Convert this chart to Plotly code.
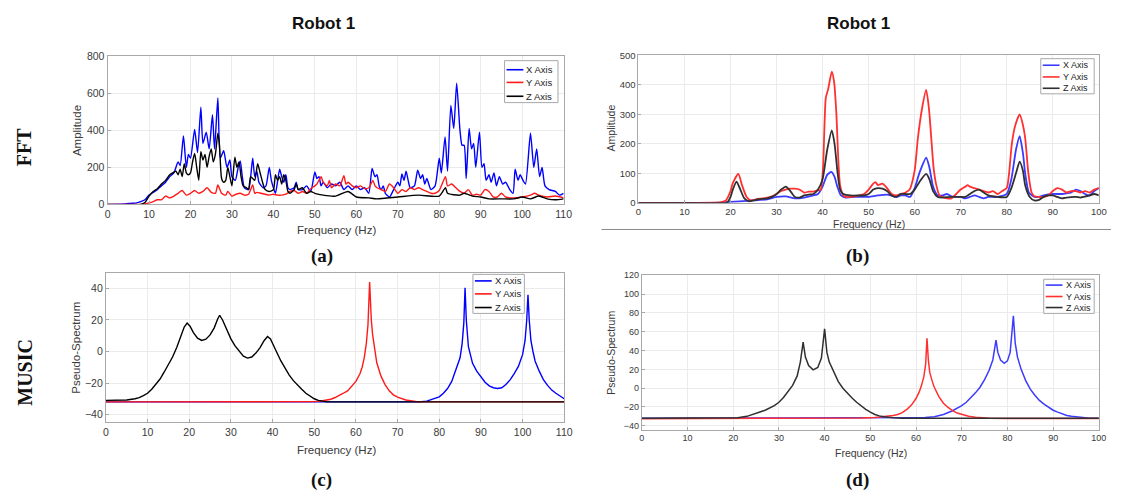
import plotly.graph_objects as go

# ---------------- DATA ----------------
# (a) FFT Robot 1 : (frequency Hz, amplitude)
fft_a_x = [(0,0),(2,1),(4,3),(5,5),(6,6),(7,8),(8,15),(9,25),(10,50),(11,65),(12,80),(13,100),(14,120),(15,150),(16,170),(17,230),(17.5,210),(18.3,370),(19,200),(19.5,270),(20,250),(21,405),(21.7,280),(22.5,525),(23,330),(23.8,390),(24.5,300),(25.3,485),(25.8,300),(26.6,575),(27.2,250),(28,290),(28.8,200),(29.5,240),(30,150),(30.8,130),(31.5,200),(32,235),(32.5,150),(33,90),(34,80),(35,250),(35.5,150),(36,180),(36.5,120),(37.5,90),(38.2,100),(39,200),(39.5,130),(40,90),(40.5,60),(41.5,190),(42,150),(42.5,120),(43,160),(43.5,90),(44,80),(45,90),(45.5,120),(46,80),(47,80),(48,100),(49,70),(50,175),(50.5,140),(51,150),(51.5,100),(52,120),(53,90),(54,110),(55,100),(56,120),(57,80),(58,100),(59,80),(60,100),(61,80),(62,90),(63,60),(63.8,195),(64.5,150),(65,160),(65.5,100),(66,80),(66.5,100),(67,60),(68,40),(69,80),(70,120),(70.5,100),(71,165),(71.5,130),(72,180),(72.5,130),(73,90),(74,100),(74.8,185),(75.5,140),(76,160),(76.5,110),(77,140),(78,80),(79,100),(80,250),(80.5,170),(81.4,365),(82,180),(82.8,535),(83.5,410),(84.2,655),(85,400),(85.5,320),(86,320),(86.5,140),(87.2,410),(87.8,300),(88.3,330),(88.8,200),(89.7,390),(90.3,200),(90.8,220),(91.3,130),(92,160),(92.5,120),(93.2,170),(93.8,100),(94.5,150),(95.3,110),(96,120),(97,80),(97.8,60),(98.3,190),(99,130),(99.5,160),(100.2,130),(100.8,110),(102,385),(102.8,200),(103.5,300),(104.2,150),(104.8,200),(105.5,100),(106.5,80),(108,70),(109,50),(110,60)]
fft_a_y = [(0,0),(8,0),(9,3),(10,8),(11,15),(12,25),(13,25),(14,45),(15,35),(16,45),(17,60),(18,75),(19,50),(20,60),(21,75),(22,60),(23,70),(24,90),(25,65),(26,60),(26.6,105),(27.5,60),(28.5,50),(29,70),(30,45),(31,55),(32,60),(33,50),(34,55),(35,105),(35.5,60),(36,65),(37,60),(38,55),(39,50),(40,55),(41,50),(42,50),(43,55),(44,70),(45,75),(46,60),(47,70),(48,60),(49,85),(50,100),(50.5,110),(51.5,150),(52,120),(53,100),(53.5,130),(54,90),(55,110),(56,100),(57,155),(57.5,110),(58,120),(59,100),(60,90),(61,100),(62,85),(63,90),(64,130),(64.5,100),(65,90),(66,80),(67,70),(68,110),(69,90),(70,60),(71,80),(72,70),(73,90),(74,80),(75,90),(76,80),(77,70),(78,60),(79,60),(80,75),(81.5,150),(82,100),(83,110),(84,90),(85,70),(86,60),(87,80),(88,50),(89,55),(90,50),(91,80),(92,70),(93,40),(94,40),(95,60),(96,40),(98,35),(100,40),(102,50),(103,60),(104,50),(106,40),(108,45),(110,35)]
fft_a_z = [(0,0),(8,0),(9,10),(10,45),(11,70),(12,85),(13,110),(14,130),(15,160),(16,175),(16.5,180),(17,160),(17.5,190),(18,150),(18.5,220),(19,170),(19.5,160),(20,170),(20.5,230),(21,275),(21.5,200),(22,130),(22.5,285),(23,240),(23.5,270),(24,200),(24.5,260),(25,300),(25.5,230),(26,270),(26.6,385),(27,320),(27.5,140),(28,120),(28.5,130),(29,200),(29.5,150),(30,100),(30.7,255),(31.2,200),(31.7,230),(32.2,150),(32.7,100),(33.5,90),(34,80),(34.5,150),(35,140),(35.5,130),(36.2,220),(36.8,170),(37.5,110),(38,80),(39,70),(40,80),(40.5,160),(41,130),(41.5,150),(42,110),(42.5,160),(43,130),(43.5,70),(44,60),(45,80),(45.5,110),(46,80),(47,90),(48,60),(49,70),(50,60),(52,50),(55,45),(58,70),(60,40),(63,35),(65,30),(70,40),(75,50),(80,45),(81.5,90),(82,60),(85,50),(86,60),(88,45),(90,40),(92,30),(95,30),(98,30),(100,40),(102,30),(104,45),(106,30),(108,25),(110,30)]

# (b) FFT Robot 1 (second)
fft_b_x = [(0,0),(10,0),(18,1),(20,3),(22,5),(25,8),(28,12),(30,20),(32,22),(34,15),(36,18),(38,25),(39,30),(40,55),(41,95),(41.9,105),(42.6,88),(43.2,55),(44,25),(45,18),(47,20),(49,20),(50,20),(52,25),(54,28),(56,20),(57,25),(58,25),(59,20),(60,50),(61,100),(62.5,153),(63.2,120),(64,55),(65,25),(66,25),(67,30),(68,22),(69,20),(70,20),(71,15),(72,20),(73,25),(74,20),(75,15),(76,20),(78,20),(80,30),(81,80),(82,180),(82.8,226),(83.5,170),(84,100),(84.8,35),(86,20),(87,20),(88,25),(90,30),(92,30),(94,35),(95,45),(96,40),(97,30),(98,25),(99,40),(100,50)]
fft_b_y = [(0,0),(10,0),(17,0.5),(18,2),(19,8),(20,40),(20.5,67),(21.7,98),(22.5,60),(23.5,20),(24.5,8),(25.5,12),(27,15),(28,18),(29,22),(30,30),(31,40),(32,45),(33,48),(34,48),(35,45),(36,35),(37,38),(38,38),(39,42),(39.6,45),(40.1,120),(40.7,357),(41.2,385),(42,445),(42.5,410),(43,300),(43.4,150),(43.8,60),(44.5,25),(45,20),(46,20),(47,22),(48,25),(49,30),(50,45),(51,65),(51.5,70),(52,60),(53,65),(54,50),(55,30),(56,25),(57,30),(58,35),(58.9,45),(60,110),(60.7,220),(61.6,320),(62.5,383),(63.1,320),(63.6,220),(64.1,120),(64.6,67),(65.4,25),(66,20),(67,15),(68,15),(69,30),(70,45),(71,55),(71.5,60),(72,55),(73,50),(74,45),(75,40),(76,35),(77,40),(78,30),(79,40),(80,50),(80.5,100),(81.1,200),(81.8,260),(82.8,300),(83.5,265),(84,220),(84.7,100),(85.4,35),(86,22),(87,20),(88,20),(89,25),(90,40),(91,50),(92,45),(93,35),(94,40),(95,40),(96,35),(97,40),(98,35),(99,45),(100,50)]
fft_b_z = [(0,0),(10,0),(19,0),(19.5,5),(20,20),(20.5,45),(21.3,72),(22,50),(23,15),(24,5),(25,8),(26,12),(28,15),(29,20),(30,30),(31,45),(32,55),(33,40),(34,20),(35,18),(36,25),(37,28),(38,30),(39,45),(40,80),(41,180),(42,246),(42.6,200),(43.2,110),(43.8,45),(44.5,30),(46,25),(48,25),(49,25),(50,30),(51,45),(52,50),(53,48),(54,40),(55,25),(56,20),(57,30),(58,30),(59,30),(60,45),(61,70),(62.5,98),(63.2,80),(64,40),(65,20),(66,18),(68,20),(70,20),(71,20),(72,30),(73,40),(74,45),(75,35),(76,25),(78,20),(80,20),(81,50),(82,100),(82.8,140),(83.5,110),(84,60),(85,20),(86,8),(87,10),(88,20),(89,25),(90,25),(91,20),(92,15),(93,18),(95,20),(96,18),(98,25),(99,30),(100,25)]

# (c) MUSIC Robot 1 : (frequency Hz, pseudo-spectrum)
mus_c_x = [(0,-32),(20,-32),(40,-32),(60,-32),(75,-32),(77,-31.5),(79,-30),(80,-28.8),(81,-26.5),(82,-23.5),(83,-19),(84,-12),(85,-4),(85.5,5),(85.9,18),(86.2,40.5),(86.5,20),(87,3),(87.5,-3),(88,-7.5),(89,-12.5),(90,-16),(91,-19.5),(92,-21.8),(93,-23),(94,-23.5),(95,-23),(96,-21),(97,-18),(98,-14),(99,-9.5),(100,-2),(100.6,7),(101,20),(101.3,36),(101.6,20),(102,7),(102.5,0),(103,-6),(104,-12.5),(105,-17.8),(106,-21.5),(107,-24.5),(108,-26.5),(109,-28.5),(110,-30)]
mus_c_y = [(0,-32),(10,-32),(20,-32),(30,-32),(40,-32),(48,-32),(50,-31.8),(52,-31.3),(54,-30.3),(55,-29.2),(56,-28),(57,-26.5),(58,-25),(59,-22),(60,-19),(61,-14),(61.5,-10),(62,-4),(62.5,5),(62.9,17),(63.3,44),(63.7,20),(64,11),(64.5,2),(65,-7),(66,-15.5),(67,-21),(68,-25),(69,-27.5),(70,-29),(72,-30.8),(75,-32),(80,-32),(90,-32),(100,-32),(110,-32)]
mus_c_z = [(0,-31),(3,-31),(5,-30.8),(7,-30),(8,-29.3),(9,-28),(10,-26.5),(11,-24),(12,-21),(13,-17.5),(14,-13),(15,-8.5),(16,-3.5),(17,2.5),(18,10),(18.8,15.5),(19.5,18),(20.2,16),(21,12),(22,8.5),(23,7),(24,7.8),(25,10.5),(26,15),(26.8,20.5),(27.3,23),(28,20),(29,14),(30,8),(31,3.5),(32,0),(33,-3),(34,-4.2),(35,-3.5),(36,-1),(37,2.5),(38,7),(38.8,9.5),(39.5,8),(40,5.5),(41,-0.5),(42,-6),(43,-11),(44,-15),(45,-18.5),(46,-21.5),(47,-24),(48,-26.5),(49,-28.5),(50,-30),(51,-31),(53,-32),(60,-32),(70,-32),(80,-32),(90,-32),(100,-32),(110,-32)]

# (d) MUSIC Robot 1 (second)
mus_d_x = [(0,-32),(20,-32),(40,-32),(55,-32),(60,-31.8),(62,-31.3),(64,-30.3),(66,-28),(68,-24),(69,-21.5),(70,-18.5),(71,-15),(72,-10.5),(73,-5),(74,1),(75,9),(76,19),(76.8,30),(77.5,51),(77.9,38),(78.5,30),(79.3,26.5),(80,29),(80.6,38),(81.3,77),(81.7,48),(82.2,33),(83,20),(84,8),(85,-1),(86,-7.5),(87,-13),(88,-17),(89,-20.5),(90,-23.5),(91,-25.5),(92,-27.5),(93,-29),(94,-30),(96,-31.3),(98,-32),(100,-32)]
mus_d_y = [(0,-32.5),(10,-32.5),(20,-32.3),(30,-32.2),(40,-32),(48,-31.8),(51,-31.3),(53,-30.5),(55,-29),(56,-28),(57,-26),(58,-22.5),(59,-18),(60,-11),(60.7,-4),(61.2,3),(61.7,12),(62.1,25),(62.4,53),(62.7,30),(63,17),(63.5,8),(64,1),(65,-9),(66,-16),(67,-20.5),(68,-24),(69,-26.5),(70,-28),(71.5,-29.8),(73,-31),(76,-32),(80,-32.3),(90,-32.3),(100,-32.3)]
mus_d_z = [(0,-32),(5,-32),(10,-31.7),(14,-31.3),(18,-31.6),(21,-31.5),(23,-30),(25,-27),(27,-23.5),(29,-18.5),(30,-15),(31,-10),(32,-4),(33,3),(34,13),(34.7,28),(35.3,49),(35.8,33),(36.5,24),(37.5,19.5),(38.5,22),(39.3,32),(40,63),(40.5,38),(41,28),(42,17),(43,7),(44,0),(45,-5.5),(46,-10.5),(47,-15),(48,-19),(49,-22.5),(50,-25.5),(51,-28),(52,-29.5),(53,-30.5),(55,-31.5),(57,-32),(70,-32),(80,-32),(90,-32),(100,-32)]

series_names = ["X Axis", "Y Axis", "Z Axis"]
panel_letters = ["(a)", "(b)", "(c)", "(d)"]
column_titles = ["Robot 1", "Robot 1"]
row_titles = ["FFT", "MUSIC"]
x_ranges = [[0, 110], [0, 100], [0, 110], [0, 100]]
y_ranges = [[0, 800], [0, 500], [-45, 50], [-44, 120]]
y_dticks = [200, 100, 20, 20]
y_titles = ["Amplitude", "Amplitude", "Pseudo-Spectrum", "Pseudo-Spectrum"]
x_title = "Frequency (Hz)"

# ---------------- LAYOUT HELPERS ----------------
W, H = 1121, 497
def px(x): return x / W
def py(y): return 1 - y / H

# plot areas in pixels: left, right, top, bottom
areas = [(105.7, 566.7, 51.7, 203.3), (642.3, 1107.7, 50.7, 201.7),
         (104.0, 567.3, 273.3, 426.7), (645.7, 1107.7, 276.0, 434.0)]
# legend boxes (left, top, right, bottom) and row centres
legend_boxes = [(507, 56, 561, 99), (1049, 54, 1103, 90), (475, 275, 527, 315), (1052, 280, 1103, 315)]
legend_rows = [(65.3, 78.3, 92.5), (60.7, 72.7, 84.3), (281.7, 295.0, 309.0), (286.0, 297.7, 309.0)]
legend_fs = [9.5, 9, 9.5, 9]
tick_sizes = [10.5, 9.5, 10.5, 9]
title_sizes = [11.5, 10.5, 11.5, 10.5]
ytitle_pos = [(75, 128), (615, 125), (73, 350), (615, 355)]
xtitle_pos = [(337, 230), (875, 223), (337, 455), (877, 458)]
letter_pos = [(322, 256), (864, 256), (322, 486), (864, 486)]

colors_strong = ["#0000ff", "#ff1a1a", "#000000"]
colors_soft = ["#3b3bff", "#ff3030", "#303030"]

panels = [
    (fft_a_x, fft_a_y, fft_a_z, colors_strong, 1.4, "spline"),
    (fft_b_x, fft_b_y, fft_b_z, colors_soft, 1.8, "spline"),
    (mus_c_x, mus_c_y, mus_c_z, colors_strong, 1.4, "linear"),
    (mus_d_x, mus_d_y, mus_d_z, colors_soft, 1.5, "linear"),
]

fig = go.Figure()
layout = dict(width=W, height=H, margin=dict(l=0, r=0, t=0, b=0),
              paper_bgcolor="white", plot_bgcolor="white",
              font=dict(family="Liberation Sans, Arial, sans-serif", color="#333333"),
              showlegend=False)

annotations = []
shapes = []

for i, (sx, sy, sz, cols, lw, shape) in enumerate(panels):
    k = "" if i == 0 else str(i + 1)
    for j, data in enumerate([sx, sy, sz]):
        fig.add_trace(go.Scatter(
            x=[p[0] for p in data], y=[p[1] for p in data],
            mode="lines", name=series_names[j],
            line=dict(color=cols[j], width=lw, shape=shape,
                      smoothing=0.6 if shape == "spline" else None),
            xaxis="x" + k, yaxis="y" + k, hoverinfo="skip"))
    l, r, t, b = areas[i]
    axis_common = dict(showline=True, linecolor="#a8a8a8", linewidth=1, mirror=True,
                       showgrid=True, gridcolor="#ebebeb", gridwidth=1,
                       zeroline=False, ticks="inside", ticklen=3, tickcolor="#a8a8a8",
                       tickfont=dict(size=tick_sizes[i], color="#3a3a3a",
                                     family="Liberation Sans, Arial, sans-serif"))
    layout["xaxis" + k] = dict(domain=[px(l), px(r)], range=x_ranges[i], dtick=10, tick0=0,
                               anchor="y" + k, **axis_common)
    layout["yaxis" + k] = dict(domain=[py(b), py(t)], range=y_ranges[i], dtick=y_dticks[i],
                               tick0=0, anchor="x" + k, **axis_common)

    # legend box drawn as shapes + text
    bl, bt, br, bb = legend_boxes[i]
    shapes.append(dict(type="rect", xref="paper", yref="paper", layer="above",
                       x0=px(bl), x1=px(br), y0=py(bb), y1=py(bt),
                       fillcolor="white", line=dict(color="#a8a8a8", width=1)))
    for j in range(3):
        ry = legend_rows[i][j]
        shapes.append(dict(type="line", xref="paper", yref="paper", layer="above",
                           x0=px(bl + 2), x1=px(bl + 19), y0=py(ry), y1=py(ry),
                           line=dict(color=cols[j], width=1.6)))
        annotations.append(dict(text=series_names[j], x=px(bl + 20), y=py(ry),
                                xref="paper", yref="paper", xanchor="left", yanchor="middle",
                                showarrow=False,
                                font=dict(size=legend_fs[i], color="#222222")))

for i in range(4):
    xx, yy = ytitle_pos[i]
    annotations.append(dict(text=y_titles[i], x=px(xx), y=py(yy), xref="paper", yref="paper",
                            xanchor="center", yanchor="middle",
                            showarrow=False, textangle=-90,
                            font=dict(size=title_sizes[i], color="#3a3a3a")))
    xx, yy = xtitle_pos[i]
    annotations.append(dict(text=x_title, x=px(xx), y=py(yy), xref="paper", yref="paper",
                            xanchor="center", yanchor="middle",
                            showarrow=False, font=dict(size=title_sizes[i], color="#3a3a3a")))
    xx, yy = letter_pos[i]
    annotations.append(dict(text="<b>%s</b>" % panel_letters[i], x=px(xx), y=py(yy),
                            xref="paper", yref="paper", xanchor="center", yanchor="middle",
                            showarrow=False,
                            font=dict(size=19, color="#111111",
                                      family="Liberation Serif, Times New Roman, serif")))
for cx, txt in zip([324, 865], column_titles):
    annotations.append(dict(text="<b>%s</b>" % txt, x=px(cx), y=py(18), xref="paper", yref="paper",
                            xanchor="center", yanchor="middle",
                            showarrow=False, font=dict(size=17, color="#111111",
                                                       family="Liberation Sans, Arial, sans-serif")))
for cy, txt in zip([145, 375], row_titles):
    annotations.append(dict(text="<b>%s</b>" % txt, x=px(22), y=py(cy), xref="paper", yref="paper",
                            xanchor="center", yanchor="middle",
                            showarrow=False, textangle=-90,
                            font=dict(size=20, color="#111111",
                                      family="Liberation Serif, Times New Roman, serif")))

shapes.append(dict(type="line", xref="paper", yref="paper", x0=px(605), x1=px(1120),
                   y0=py(229), y1=py(229), line=dict(color="#8a8a8a", width=1)))
layout["annotations"] = annotations
layout["shapes"] = shapes

fig.update_layout(**layout)
fig.write_html("out.html", config={"displayModeBar": False})
